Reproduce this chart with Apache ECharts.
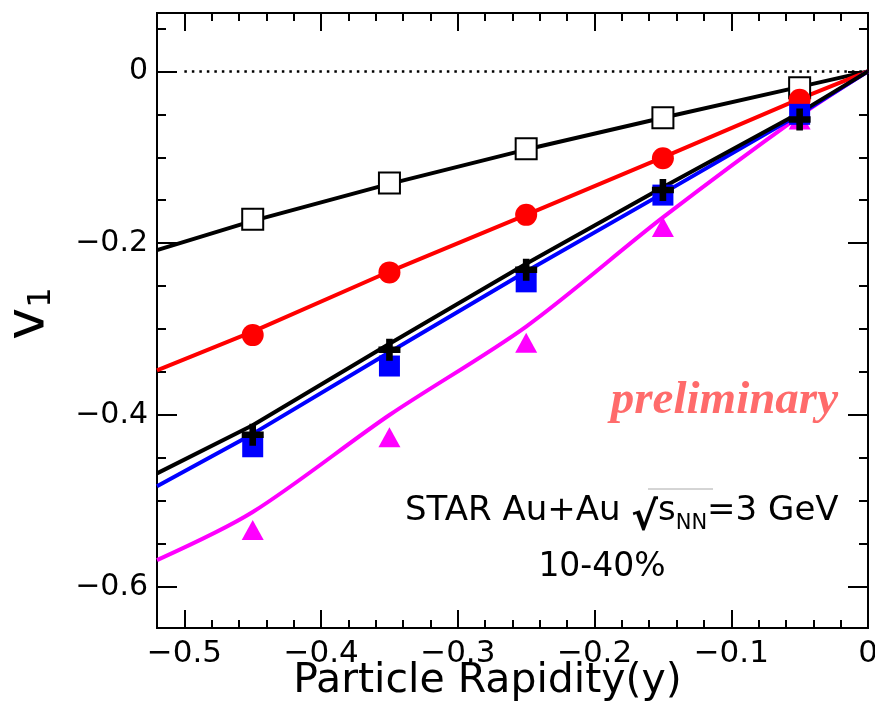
<!DOCTYPE html>
<html>
<head>
<meta charset="utf-8">
<script src="https://cdn.jsdelivr.net/npm/echarts@6/dist/echarts.min.js"></script>
<style>
html, body { margin: 0; padding: 0; background: #fff; }
#chart { width: 875px; height: 726px; }
</style>
</head>
<body>
<div id="chart"></div>
<script>
// measured points
var rapidity = [-0.45, -0.35, -0.25, -0.15, -0.05];
var v1OpenSquare = [-0.172, -0.130, -0.090, -0.054, -0.019];
var v1Circle = [-0.307, -0.234, -0.167, -0.101, -0.033];
var v1Cross = [-0.423, -0.324, -0.231, -0.138, -0.056];
var v1BlueSquare = [-0.437, -0.343, -0.245, -0.144, -0.050];
var v1Triangle = [-0.534, -0.426, -0.316, -0.181, -0.056];

// model curves
var fitX = [-0.52, -0.45, -0.35, -0.25, -0.15, -0.05, 0];
var fitOpenSquare = [-0.208, -0.174, -0.131, -0.091, -0.054, -0.018, 0];
var fitCircle = [-0.348, -0.303, -0.233, -0.167, -0.100, -0.032, 0];
var fitCross = [-0.468, -0.412, -0.317, -0.224, -0.135, -0.048, 0];
var fitBlueSquare = [-0.483, -0.422, -0.327, -0.233, -0.142, -0.050, 0];
var fitTriangle = [-0.569, -0.513, -0.400, -0.297, -0.170, -0.052, 0];

var zeroLineX = [-0.5, 0];

// ticks
var xLabels = [-0.5, -0.4, -0.3, -0.2, -0.1, 0];
var xMinorTicks = [-0.52, -0.5, -0.48, -0.46, -0.44, -0.42, -0.4, -0.38, -0.36, -0.34, -0.32, -0.3,
    -0.28, -0.26, -0.24, -0.22, -0.2, -0.18, -0.16, -0.14, -0.12, -0.1, -0.08, -0.06, -0.04, -0.02, 0];
var yLabels = [0, -0.2, -0.4, -0.6];
var yMinorTicks = [0.05, 0, -0.05, -0.1, -0.15, -0.2, -0.25, -0.3, -0.35, -0.4, -0.45, -0.5, -0.55, -0.6];

var FONT = 'DejaVu Sans';

function pairs(xs, ys) {
    return xs.map(function (x, i) { return [x, ys[i]]; });
}
function fmt(v) {
    return v < 0 ? '\u2212' + Math.abs(v) : String(v);
}

function xAxisDef(pos, ticks, len, labels) {
    return {
        type: 'value', position: pos, min: -0.52, max: 0,
        axisLine: { show: true, onZero: false, lineStyle: { color: '#000', width: 2 } },
        axisTick: { show: true, inside: true, length: len, customValues: ticks, lineStyle: { color: '#000', width: 2 } },
        axisLabel: labels ? {
            show: true, customValues: labels, formatter: fmt, margin: 10,
            color: '#000', fontSize: 31, fontFamily: FONT
        } : { show: false },
        splitLine: { show: false }
    };
}
function yAxisDef(pos, ticks, len, labels) {
    return {
        type: 'value', position: pos, min: -0.648, max: 0.068,
        axisLine: { show: true, onZero: false, lineStyle: { color: '#000', width: 2 } },
        axisTick: { show: true, inside: true, length: len, customValues: ticks, lineStyle: { color: '#000', width: 2 } },
        axisLabel: labels ? {
            show: true, customValues: labels, formatter: fmt, margin: 9,
            color: '#000', fontSize: 30, fontFamily: FONT
        } : { show: false },
        splitLine: { show: false }
    };
}

var xMain = xAxisDef('bottom', xMinorTicks, 8, xLabels);
xMain.name = 'Particle Rapidity(y)';
xMain.nameLocation = 'middle';
xMain.nameGap = 33;
xMain.nameMoveOverlap = false;
xMain.nameTextStyle = { fontSize: 41, fontFamily: FONT, color: '#000', padding: [0, 50, 0, 0] };

var yMain = yAxisDef('left', yMinorTicks, 9, yLabels);
yMain.name = '{v|v}{s|1}';
yMain.nameLocation = 'middle';
yMain.nameRotate = 90;
yMain.nameGap = 99;
yMain.nameMoveOverlap = false;
yMain.nameTextStyle = {
    color: '#000',
    padding: [0, 0, 0, 14],
    rich: {
        v: { fontSize: 54, fontFamily: FONT, color: '#000', lineHeight: 56, verticalAlign: 'top' },
        s: { fontSize: 32, fontFamily: FONT, color: '#000', lineHeight: 32, verticalAlign: 'bottom', padding: [36, 0, 0, 0] }
    }
};

var plusPath = 'path://M3.5,0h3v3.5h3.5v3h-3.5v3.5h-3v-3.5h-3.5v-3h3.5z';

var chart = echarts.init(document.getElementById('chart'));
var option = {
    animation: false,
    backgroundColor: '#fff',
    grid: { left: 157, right: 7, top: 13, bottom: 98, containLabel: false, outerBoundsMode: 'none' },
    xAxis: [
        xMain,
        xAxisDef('bottom', xLabels, 18, null),
        xAxisDef('top', xMinorTicks, 8, null),
        xAxisDef('top', xLabels, 18, null)
    ],
    yAxis: [
        yMain,
        yAxisDef('left', yLabels, 20, null),
        yAxisDef('right', yMinorTicks, 9, null),
        yAxisDef('right', yLabels, 20, null)
    ],
    series: [
        {
            type: 'line', data: pairs(zeroLineX, [0, 0]), showSymbol: false, silent: true,
            lineStyle: { color: '#000', width: 2.5, type: [2.5, 5] }
        },
        { type: 'line', data: pairs(fitX, fitOpenSquare), showSymbol: false, lineStyle: { color: '#000', width: 4 }, z: 2 },
        { type: 'line', data: pairs(fitX, fitCircle), showSymbol: false, lineStyle: { color: '#ff0000', width: 4 }, z: 2 },
        { type: 'line', data: pairs(fitX, fitTriangle), showSymbol: false, smooth: 0.3, lineStyle: { color: '#ff00ff', width: 4 }, z: 2 },
        { type: 'line', data: pairs(fitX, fitBlueSquare), showSymbol: false, lineStyle: { color: '#0000ff', width: 4 }, z: 2 },
        { type: 'line', data: pairs(fitX, fitCross), showSymbol: false, lineStyle: { color: '#000', width: 4 }, z: 2 },
        {
            type: 'scatter', data: pairs(rapidity, v1OpenSquare), symbol: 'rect', symbolSize: 21,
            itemStyle: { color: '#fff', borderColor: '#000', borderWidth: 2, opacity: 1 }, z: 3
        },
        {
            type: 'scatter', data: pairs(rapidity, v1Circle), symbol: 'circle', symbolSize: 22,
            itemStyle: { color: '#ff0000', opacity: 1 }, z: 4
        },
        {
            type: 'scatter', data: pairs(rapidity, v1Triangle), symbol: 'triangle', symbolSize: [22, 20],
            itemStyle: { color: '#ff00ff', opacity: 1 }, z: 4
        },
        {
            type: 'scatter', data: pairs(rapidity, v1BlueSquare), symbol: 'rect', symbolSize: 21,
            itemStyle: { color: '#0000ff', opacity: 1 }, z: 4
        },
        {
            type: 'scatter', data: pairs(rapidity, v1Cross), symbol: plusPath, symbolSize: 22,
            itemStyle: { color: '#000', opacity: 1 }, z: 5
        }
    ],
    graphic: [
        {
            type: 'text', x: 838, y: 424, z: 10,
            style: {
                text: 'preliminary', fill: '#ff6b6b', align: 'right', verticalAlign: 'bottom',
                font: 'italic bold 47px "Liberation Serif"'
            }
        },
        {
            type: 'text', x: 405, y: 494, z: 10,
            style: {
                text: '{m|STAR Au+Au }{r|\u221A}{m|s}{n|NN}{m|=3 GeV}',
                fill: '#000', align: 'left', verticalAlign: 'top',
                rich: {
                    m: { fontSize: 34, fontFamily: FONT, fill: '#000', lineHeight: 40, verticalAlign: 'top' },
                    r: { fontSize: 40, fontFamily: FONT, fontWeight: 'bold', fill: '#000', lineHeight: 40, verticalAlign: 'top', padding: [6, 0, 0, 0] },
                    n: { fontSize: 21, fontFamily: FONT, fill: '#000', lineHeight: 22, verticalAlign: 'bottom', padding: [26, 0, 0, 0] }
                }
            }
        },
        {
            type: 'line', z: 10,
            shape: { x1: 648, y1: 489, x2: 713, y2: 489 },
            style: { stroke: '#aaa', lineWidth: 1 }
        },
        {
            type: 'text', x: 602, y: 567, z: 10,
            style: {
                text: '10-40%', fill: '#000', align: 'center', verticalAlign: 'middle',
                font: '33px "DejaVu Sans"'
            }
        }
    ]
};
chart.setOption(option);
</script>
</body>
</html>
